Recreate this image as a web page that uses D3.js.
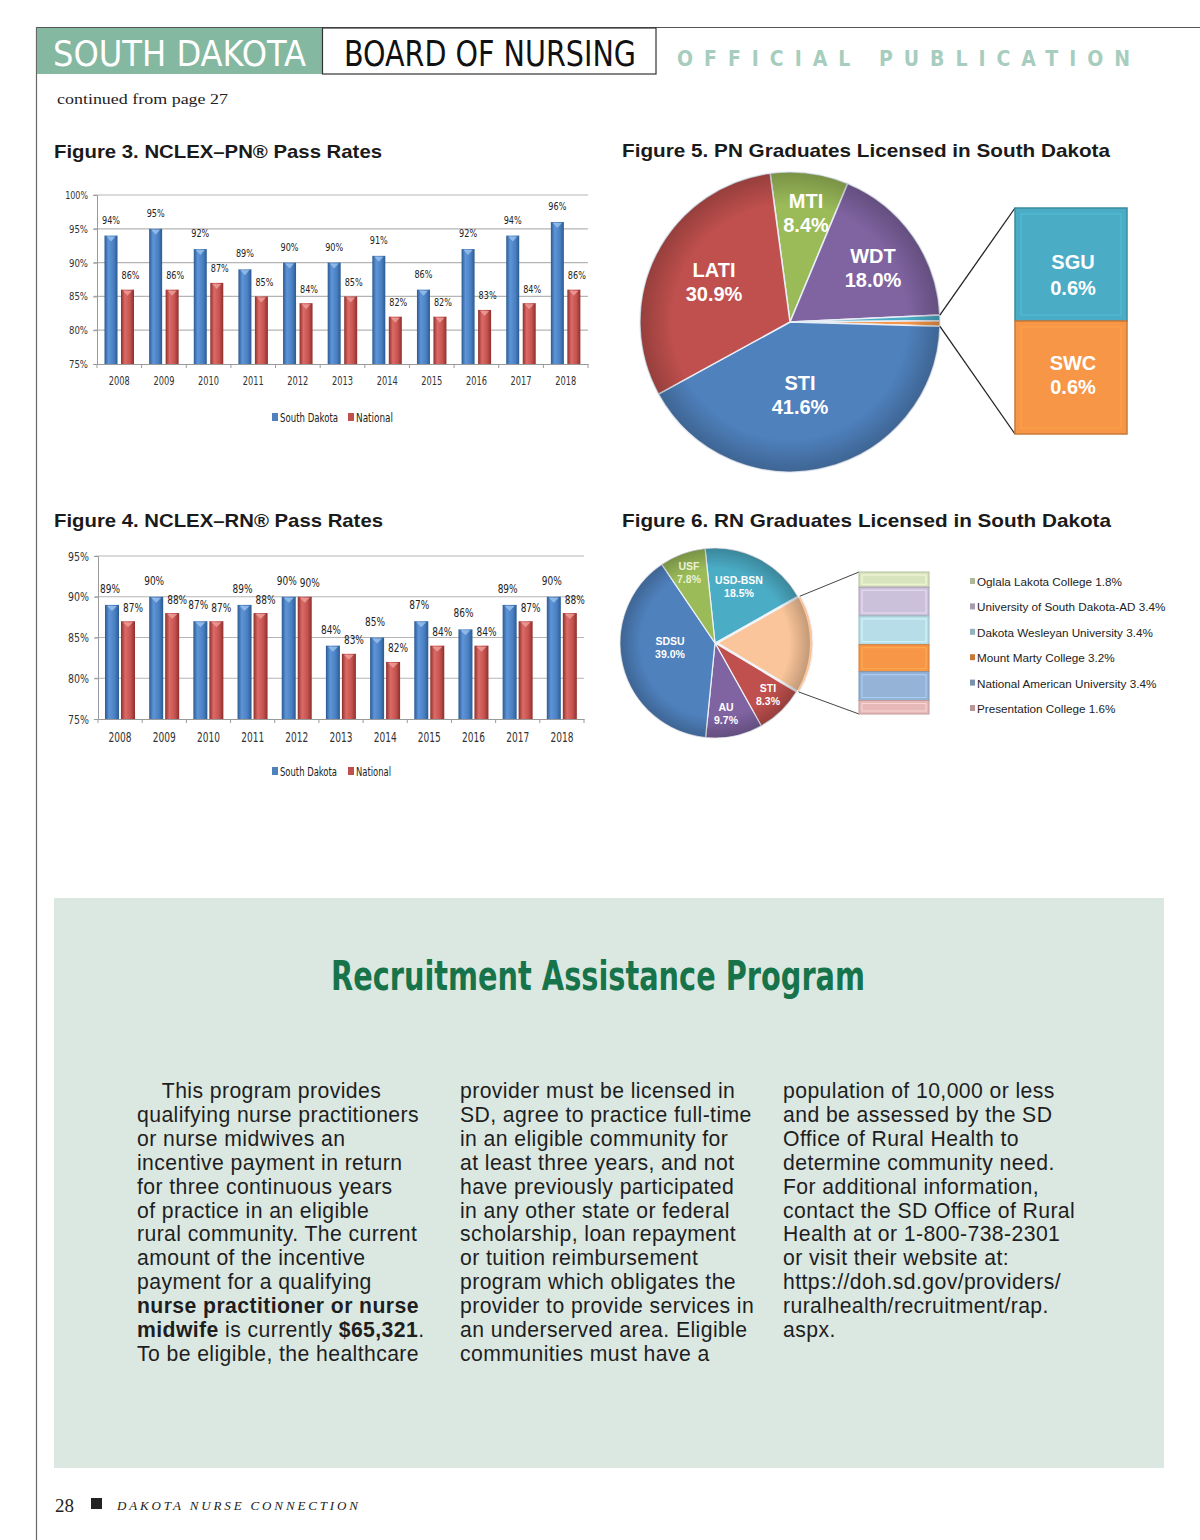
<!DOCTYPE html>
<html><head><meta charset="utf-8">
<script src="https://cdn.jsdelivr.net/npm/d3@7"></script>
<style>html,body{margin:0;padding:0;background:#fff}svg{display:block}</style>
</head><body>
<svg id="page" width="1200" height="1540"></svg>
<script>
// ---------- DATA ----------
const years = ["2008","2009","2010","2011","2012","2013","2014","2015","2016","2017","2018"];
const pnSouthDakota = [94,95,92,89,90,90,91,86,92,94,96];
const pnNational    = [86,86,87,85,84,85,82,82,83,84,86];
const pnTicks = [75,80,85,90,95,100];
const rnSouthDakota = [89,90,87,89,90,84,85,87,86,89,90];
const rnNational    = [87,88,87,88,90,83,82,84,84,87,88];
const rnTicks = [75,80,85,90,95];
const seriesNames = ["South Dakota","National"];

const pnSchools = ["MTI","WDT","SGU","SWC","STI","LATI"];
const pnShares  = [8.4,18.0,0.6,0.6,41.6,30.9];
const pnDetail  = ["SGU","SWC"];

const rnSchools = ["USD-BSN","Other","STI","AU","SDSU","USF"];
const rnShares  = [18.5,16.8,8.3,9.7,39.0,7.8];
const rnOtherSchools = ["Oglala Lakota College","University of South Dakota-AD","Dakota Wesleyan University","Mount Marty College","National American University","Presentation College"];
const rnOtherShares  = [1.8,3.4,3.4,3.2,3.4,1.6];

const col1 = [
 [["    This program provides",0]],
 [["qualifying nurse practitioners",0]],
 [["or nurse midwives an",0]],
 [["incentive payment in return",0]],
 [["for three continuous years",0]],
 [["of practice in an eligible",0]],
 [["rural community. The current",0]],
 [["amount of the incentive",0]],
 [["payment for a qualifying",0]],
 [["nurse practitioner or nurse",1]],
 [["midwife",1],[" is currently ",0],["$65,321",1],[".",0]],
 [["To be eligible, the healthcare",0]]
];
const col2 = ["provider must be licensed in","SD, agree to practice full-time","in an eligible community for","at least three years, and not","have previously participated","in any other state or federal","scholarship, loan repayment","or tuition reimbursement","program which obligates the","provider to provide services in","an underserved area. Eligible","communities must have a"];
const col3 = ["population of 10,000 or less","and be assessed by the SD","Office of Rural Health to","determine community need.","For additional information,","contact the SD Office of Rural","Health at or 1-800-738-2301","or visit their website at:","https://doh.sd.gov/providers/","ruralhealth/recruitment/rap.","aspx."];

// ---------- STYLE ----------
const COND = "'Liberation Sans Narrow','Arial Narrow','DejaVu Sans Condensed',sans-serif";
const SANS = "'Liberation Sans',Arial,sans-serif";
const SERIF = "'Liberation Serif','DejaVu Serif',serif";
const BODY = "'Liberation Sans',Arial,sans-serif";
const pieColors = {MTI:"#9bbb59",WDT:"#8064a2",SGU:"#4bacc6",SWC:"#f79646",STI:"#4f81bd",LATI:"#c0504d"};
const rnColors = {"USD-BSN":"#4bacc6","Other":"#fac59a","STI":"#c0504d","AU":"#8064a2","SDSU":"#4f81bd","USF":"#9bbb59"};
const otherColors = ["#d7e4bd","#ccc1da","#b7dee8","#f79646","#95b3d7","#e6b9b8"];

const svg = d3.select("#page");
const defs = svg.append("defs");
function cylGrad(id, c0, c1, c2){
  const g = defs.append("linearGradient").attr("id",id).attr("x1","0").attr("x2","1").attr("y1","0").attr("y2","0");
  g.append("stop").attr("offset","0%").attr("stop-color",c0);
  g.append("stop").attr("offset","30%").attr("stop-color",c1);
  g.append("stop").attr("offset","70%").attr("stop-color",c2);
  g.append("stop").attr("offset","100%").attr("stop-color",c0);
}
cylGrad("gBlue","#2b5a92","#5e95d8","#4a80c2");
cylGrad("gRed","#8e2f2c","#dc6a66","#c4524e");
const rg = defs.append("radialGradient").attr("id","pieShade");
rg.append("stop").attr("offset","78%").attr("stop-color","#000").attr("stop-opacity",0);
rg.append("stop").attr("offset","100%").attr("stop-color","#000").attr("stop-opacity",0.22);

function fitText(sel, w){ return sel.attr("textLength",w).attr("lengthAdjust","spacingAndGlyphs"); }

// ---------- HEADER ----------
svg.append("line").attr("x1",36).attr("x2",1200).attr("y1",27.5).attr("y2",27.5).attr("stroke","#555").attr("stroke-width",1.2);
svg.append("line").attr("x1",36.5).attr("x2",36.5).attr("y1",27).attr("y2",1540).attr("stroke","#666").attr("stroke-width",1.2);
svg.append("rect").attr("x",37).attr("y",28).attr("width",285).attr("height",46).attr("fill","#84b8a0");
svg.append("rect").attr("x",322.5).attr("y",28).attr("width",333.5).attr("height",46).attr("fill","#fff").attr("stroke","#333").attr("stroke-width",1.2);
fitText(svg.append("text").attr("x",53).attr("y",66).attr("fill","#fff").attr("font-family",COND).attr("font-size",36),253).text("SOUTH DAKOTA");
fitText(svg.append("text").attr("x",344).attr("y",66).attr("fill","#111").attr("font-family",COND).attr("font-size",36),292).text("BOARD OF NURSING");
svg.append("text").attr("x",677).attr("y",66).attr("fill","#a6cdbe").attr("font-family",COND).attr("font-weight","bold").attr("font-size",21)
  .attr("textLength",453).attr("lengthAdjust","spacing").text("OFFICIAL PUBLICATION");
fitText(svg.append("text").attr("x",57).attr("y",104).attr("fill","#222").attr("font-family",SERIF).attr("font-size",15.5),171).text("continued from page 27");

// ---------- TITLES ----------
function title(x,y,w,t){
  fitText(svg.append("text").attr("x",x).attr("y",y).attr("fill","#1a1a1a").attr("font-family",SANS).attr("font-weight","bold")
   .attr("font-size",19),w).text(t);
}
title(54,158,328,"Figure 3. NCLEX–PN® Pass Rates");
title(622,157,488,"Figure 5. PN Graduates Licensed in South Dakota");
title(54,527,329,"Figure 4. NCLEX–RN® Pass Rates");
title(622,527,489,"Figure 6. RN Graduates Licensed in South Dakota");

// ---------- BAR CHARTS ----------
function barChart(o){
  const g = svg.append("g");
  const x = d3.scaleBand().domain(years).range([o.x0,o.x1]);
  const y = d3.scaleLinear().domain([o.ticks[0],o.ticks[o.ticks.length-1]]).range([o.yb,o.yt]);
  g.selectAll(".grid").data(o.ticks.slice(1)).join("line")
    .attr("x1",o.x0-3).attr("x2",o.x1).attr("y1",d=>y(d)).attr("y2",d=>y(d))
    .attr("stroke","#b5b5b5").attr("stroke-width",1.2);
  const ya = g.append("g").attr("transform",`translate(${o.x0},0)`)
    .call(d3.axisLeft(y).tickValues(o.ticks).tickSize(4).tickFormat(d=>d+"%"));
  ya.select(".domain").attr("stroke","#9a9a9a");
  ya.selectAll(".tick line").attr("stroke","#9a9a9a");
  ya.selectAll("text").attr("font-family",COND).attr("font-size",o.tickFs).attr("fill","#333").attr("dx",-2)
    .attr("textLength",d=>d>=100?o.tickW*1.2:o.tickW).attr("lengthAdjust","spacingAndGlyphs");
  const xa = g.append("g").attr("transform",`translate(0,${o.yb})`)
    .call(d3.axisBottom(x).tickSize(0).tickPadding(o.xPad));
  xa.select(".domain").attr("stroke","#9a9a9a");
  xa.selectAll("text").attr("font-family",COND).attr("font-size",o.xFs).attr("fill","#333")
    .attr("textLength",o.yearW).attr("lengthAdjust","spacingAndGlyphs");
  g.selectAll(".sep").data(years.concat(["end"])).join("line")
    .attr("x1",(d,i)=>o.x0+i*x.step()).attr("x2",(d,i)=>o.x0+i*x.step())
    .attr("y1",o.yb).attr("y2",o.yb+4).attr("stroke","#9a9a9a");
  const series = [o.sd,o.nat];
  series.forEach((vals,si)=>{
    const bx = d=>x(d)+(si===0?o.off0:o.off1);
    g.selectAll(".b"+si).data(years).join("rect")
      .attr("x",bx).attr("width",o.bw)
      .attr("y",(d,i)=>y(vals[i])).attr("height",(d,i)=>o.yb-y(vals[i]))
      .attr("fill",si===0?"url(#gBlue)":"url(#gRed)");
    g.selectAll(".t"+si).data(years).join("path")
      .attr("d",(d,i)=>{const X=bx(d),Y=y(vals[i]);return `M${X+2},${Y+1}L${X+o.bw-2},${Y+1}L${X+o.bw/2},${Y+6}Z`;})
      .attr("fill",si===0?"#9cc3ee":"#eea19e").attr("opacity",0.8);
    g.selectAll(".l"+si).data(years).join("text")
      .attr("x",d=>bx(d)+o.bw/2+(si===0?o.lx0:o.lx1))
      .attr("y",(d,i)=>y(vals[i])-(si===0?o.ly0:o.ly1))
      .attr("text-anchor","middle").attr("font-family",COND).attr("font-size",o.lblFs).attr("fill","#222")
      .attr("textLength",o.lblW).attr("lengthAdjust","spacingAndGlyphs")
      .text((d,i)=>vals[i]+"%");
  });
  const lg = g.append("g");
  seriesNames.forEach((n,i)=>{
    const lx = o.legX[i];
    lg.append("rect").attr("x",lx).attr("y",o.legY-9).attr("width",6).attr("height",8).attr("fill",i===0?"#4f81bd":"#c0504d");
    lg.append("text").attr("x",lx+8).attr("y",o.legY).attr("font-family",COND).attr("font-size",o.legFs).attr("fill","#222")
      .attr("textLength",o.legW[i]).attr("lengthAdjust","spacingAndGlyphs").text(n);
  });
}
barChart({x0:97,x1:588,yt:195,yb:364,ticks:pnTicks,sd:pnSouthDakota,nat:pnNational,
  bw:13,off0:7.5,off1:24,tickFs:11,tickW:19,xFs:11.5,yearW:21,xPad:13,lblFs:11,lblW:18,lx0:0,lx1:3,ly0:12,ly1:10.5,
  legX:[272,348],legY:422,legFs:11.5,legW:[58,37]});
barChart({x0:98,x1:584,yt:556,yb:719,ticks:rnTicks,sd:rnSouthDakota,nat:rnNational,
  bw:14,off0:7,off1:23,tickFs:13,tickW:21,xFs:13.5,yearW:23,xPad:13,lblFs:12.5,lblW:20,lx0:-2,lx1:5,ly0:12,ly1:9.5,
  legX:[272,348],legY:776,legFs:12,legW:[57,35]});

// ---------- PIE FIG 5 ----------
(function(){
  const cx=790, cy=322, r=150;
  const a0 = -7.6*Math.PI/180;
  const pie = d3.pie().sort(null).value(d=>d.v).startAngle(a0).endAngle(a0+2*Math.PI);
  const data = pie(pnSchools.map((s,i)=>({s,v:pnShares[i]})));
  const arc = d3.arc().innerRadius(0).outerRadius(r);
  const g = svg.append("g").attr("transform",`translate(${cx},${cy})`);
  g.selectAll("path.s").data(data).join("path").attr("class","s").attr("d",arc)
    .attr("fill",d=>pieColors[d.data.s]).attr("stroke","#e8eef7").attr("stroke-width",1.5);
  g.append("circle").attr("r",r).attr("fill","url(#pieShade)");
  const lbl = {MTI:[16,-114],WDT:[83,-59],LATI:[-76,-45],STI:[10,68]};
  data.forEach(d=>{
    const p = lbl[d.data.s]; if(!p) return;
    const t = g.append("text").attr("text-anchor","middle").attr("font-family",SANS).attr("font-weight","bold")
      .attr("font-size",20).attr("fill","#fff");
    t.append("tspan").attr("x",p[0]).attr("y",p[1]).text(d.data.s);
    t.append("tspan").attr("x",p[0]).attr("y",p[1]+24).text(d.data.v.toFixed(1)+"%");
  });
  const det = data.filter(d=>pnDetail.includes(d.data.s));
  const total = d3.sum(det,d=>d.data.v);
  const by = d3.scaleLinear().domain([0,total]).range([208,434]);
  const bx0=1015, bw=112;
  const pTop = [cx+r*Math.sin(det[0].startAngle), cy-r*Math.cos(det[0].startAngle)];
  const pBot = [cx+r*Math.sin(det[det.length-1].endAngle), cy-r*Math.cos(det[det.length-1].endAngle)];
  svg.append("line").attr("x1",pTop[0]).attr("y1",pTop[1]).attr("x2",bx0).attr("y2",by(0)).attr("stroke","#222").attr("stroke-width",1.3);
  svg.append("line").attr("x1",pBot[0]).attr("y1",pBot[1]).attr("x2",bx0).attr("y2",by(total)).attr("stroke","#222").attr("stroke-width",1.3);
  const lblOff = [[4,30],[-8,16]];
  let acc=0;
  det.forEach((d,i)=>{
    const y0=by(acc), y1=by(acc+d.data.v); acc+=d.data.v;
    const c = pieColors[d.data.s];
    svg.append("rect").attr("x",bx0).attr("y",y0).attr("width",bw).attr("height",y1-y0).attr("fill",c)
      .attr("stroke",d3.color(c).darker(0.6)).attr("stroke-width",1.5);
    svg.append("rect").attr("x",bx0+6).attr("y",y0+6).attr("width",bw-12).attr("height",y1-y0-12).attr("fill","none")
      .attr("stroke",d3.color(c).brighter(0.4)).attr("stroke-width",1).attr("opacity",0.7);
    const t = svg.append("text").attr("text-anchor","middle").attr("font-family",SANS).attr("font-weight","bold")
      .attr("font-size",20).attr("fill","#fff");
    const my=(y0+y1)/2;
    t.append("tspan").attr("x",bx0+bw/2+2).attr("y",my+lblOff[i][0]).text(d.data.s);
    t.append("tspan").attr("x",bx0+bw/2+2).attr("y",my+lblOff[i][1]).text(d.data.v.toFixed(1)+"%");
  });
})();

// ---------- PIE FIG 6 ----------
(function(){
  const cx=715, cy=643, r=95;
  const a0 = -6*Math.PI/180;
  const pie = d3.pie().sort(null).value(d=>d.v).startAngle(a0).endAngle(a0+2*Math.PI);
  const data = pie(rnSchools.map((s,i)=>({s,v:rnShares[i]})));
  const arc = d3.arc().innerRadius(0).outerRadius(r);
  const g = svg.append("g").attr("transform",`translate(${cx},${cy})`);
  data.forEach(d=>{
    const mid=(d.startAngle+d.endAngle)/2, ex = d.data.s==="Other"?3:0;
    g.append("path").attr("d",arc(d)).attr("transform",`translate(${ex*Math.sin(mid)},${-ex*Math.cos(mid)})`)
      .attr("fill",rnColors[d.data.s]).attr("stroke","#eef2f8").attr("stroke-width",1.2);
  });
  g.append("circle").attr("r",r).attr("fill","url(#pieShade)");
  const lbl = {"USF":[-26,-73,"#e9f1d6"],"USD-BSN":[24,-59,"#fff"],"SDSU":[-45,2,"#fff"],"STI":[53,49,"#fff"],"AU":[11,68,"#fff"]};
  data.forEach(d=>{
    const p = lbl[d.data.s]; if(!p) return;
    const t = g.append("text").attr("text-anchor","middle").attr("font-family",SANS).attr("font-weight","bold")
      .attr("font-size",10.5).attr("fill",p[2]);
    t.append("tspan").attr("x",p[0]).attr("y",p[1]).text(d.data.s);
    t.append("tspan").attr("x",p[0]).attr("y",p[1]+13).text(d.data.v.toFixed(1)+"%");
  });
  const oth = data.find(d=>d.data.s==="Other");
  const by = d3.scaleLinear().domain([0,d3.sum(rnOtherShares)]).range([572,714]);
  const bx0=859, bw=70;
  const pTop=[cx+r*Math.sin(oth.startAngle)+2, cy-r*Math.cos(oth.startAngle)];
  const pBot=[cx+r*Math.sin(oth.endAngle)+2, cy-r*Math.cos(oth.endAngle)];
  svg.append("line").attr("x1",pTop[0]).attr("y1",pTop[1]).attr("x2",bx0).attr("y2",by(0)).attr("stroke","#444").attr("stroke-width",1);
  svg.append("line").attr("x1",pBot[0]).attr("y1",pBot[1]).attr("x2",bx0).attr("y2",by(d3.sum(rnOtherShares))).attr("stroke","#444").attr("stroke-width",1);
  let acc=0;
  rnOtherShares.forEach((v,i)=>{
    const y0=by(acc), y1=by(acc+v); acc+=v;
    const c=otherColors[i];
    svg.append("rect").attr("x",bx0).attr("y",y0).attr("width",bw).attr("height",y1-y0).attr("fill",c)
      .attr("stroke",d3.color(c).darker(0.5)).attr("stroke-width",1);
    svg.append("rect").attr("x",bx0+3).attr("y",y0+3).attr("width",bw-6).attr("height",Math.max(0,y1-y0-6)).attr("fill","none")
      .attr("stroke",d3.color(c).brighter(0.5)).attr("stroke-width",1).attr("opacity",0.8);
  });
  rnOtherSchools.forEach((n,i)=>{
    const ly = 586+i*25.4;
    svg.append("rect").attr("x",970).attr("y",ly-8).attr("width",5).attr("height",6).attr("fill",d3.color(otherColors[i]).darker(0.6));
    svg.append("text").attr("x",977).attr("y",ly).attr("font-family",SANS).attr("font-size",11.7).attr("fill","#222")
      .text(n+" "+rnOtherShares[i].toFixed(1)+"%");
  });
})();

// ---------- RECRUITMENT BOX ----------
svg.append("rect").attr("x",54).attr("y",898).attr("width",1110).attr("height",570).attr("fill","#dbe8e2");
fitText(svg.append("text").attr("x",598).attr("y",990).attr("text-anchor","middle").attr("fill","#17744a")
  .attr("font-family",COND).attr("font-weight","bold").attr("font-size",40),534).text("Recruitment Assistance Program");

const bodyFs = 21.2;
const probe = svg.append("text").attr("font-family",BODY).attr("font-size",bodyFs).text("qualifying nurse practitioners");
const pw = probe.node().getComputedTextLength(); probe.remove();
const bodyLs = (282-pw)/30;
const lh = 23.9, by0 = 1098;
function colText(x, lines){
  lines.forEach((ln,i)=>{
    const t = svg.append("text").attr("x",x).attr("y",by0+i*lh).attr("font-family",BODY).attr("font-size",bodyFs)
      .attr("letter-spacing",bodyLs).attr("fill","#1e1e1e").style("white-space","pre");
    const segs = typeof ln==="string" ? [[ln,0]] : ln;
    segs.forEach(s=>t.append("tspan").attr("font-weight",s[1]?"bold":"normal").text(s[0]));
  });
}
colText(137,col1);
colText(460,col2);
colText(783,col3);

// ---------- FOOTER ----------
svg.append("text").attr("x",55).attr("y",1512).attr("font-family",SERIF).attr("font-size",19).attr("fill","#222").text("28");
svg.append("rect").attr("x",91).attr("y",1498).attr("width",11).attr("height",11).attr("fill","#222");
svg.append("text").attr("x",117).attr("y",1510).attr("font-family",SERIF).attr("font-style","italic").attr("font-size",13)
  .attr("fill","#222").attr("textLength",241).attr("lengthAdjust","spacing").text("DAKOTA NURSE CONNECTION");
</script>
</body></html>
